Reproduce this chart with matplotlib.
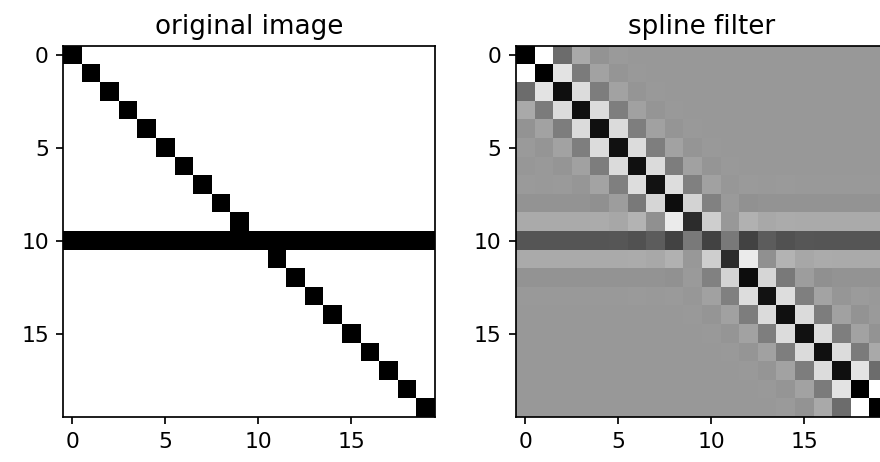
import numpy as np
import matplotlib
matplotlib.use("Agg")
import matplotlib.pyplot as plt

# original image: identity matrix plus one full row set to 1
size = 20
band_row = 10
diag_value = 1.0
band_value = 1.0

# cubic B-spline sampling taps (neighbour, centre, neighbour)
bspline_taps = [1 / 6, 4 / 6, 1 / 6]

titles = ["original image", "spline filter"]


def make_image():
    img = np.eye(size) * diag_value
    img[band_row, :] = band_value
    return img


def spline_prefilter_matrix(n):
    # interpolation matrix with mirror boundary, the prefilter is its inverse
    m = np.zeros((n, n))
    for i in range(n):
        m[i, i] += bspline_taps[1]
        left = i - 1 if i > 0 else 1
        right = i + 1 if i < n - 1 else n - 2
        m[i, left] += bspline_taps[0]
        m[i, right] += bspline_taps[2]
    return np.linalg.inv(m)


orig_img = make_image()
f_mat = spline_prefilter_matrix(size)
sp_filter = f_mat @ orig_img @ f_mat.T

plt.rcParams["font.size"] = 11.4
plt.rcParams["axes.linewidth"] = 0.9
plt.rcParams["xtick.major.width"] = 0.9
plt.rcParams["ytick.major.width"] = 0.9
plt.rcParams["xtick.major.size"] = 3.9
plt.rcParams["ytick.major.size"] = 3.9

fig = plt.figure(figsize=(6.4, 462 / 137.6), dpi=137.6)
ax_left = fig.add_axes([63 / 881, 44 / 462, 372 / 881, 373 / 462])
ax_right = fig.add_axes([516 / 881, 44 / 462, 372 / 881, 373 / 462])

for ax, data, title in zip([ax_left, ax_right], [orig_img, sp_filter], titles):
    ax.imshow(data, cmap="gray_r", interpolation="nearest")
    ax.set_title(title)
    ax.set_xticks([0, 5, 10, 15])
    ax.set_yticks([0, 5, 10, 15])

fig.savefig("out.png", dpi=137.6)
